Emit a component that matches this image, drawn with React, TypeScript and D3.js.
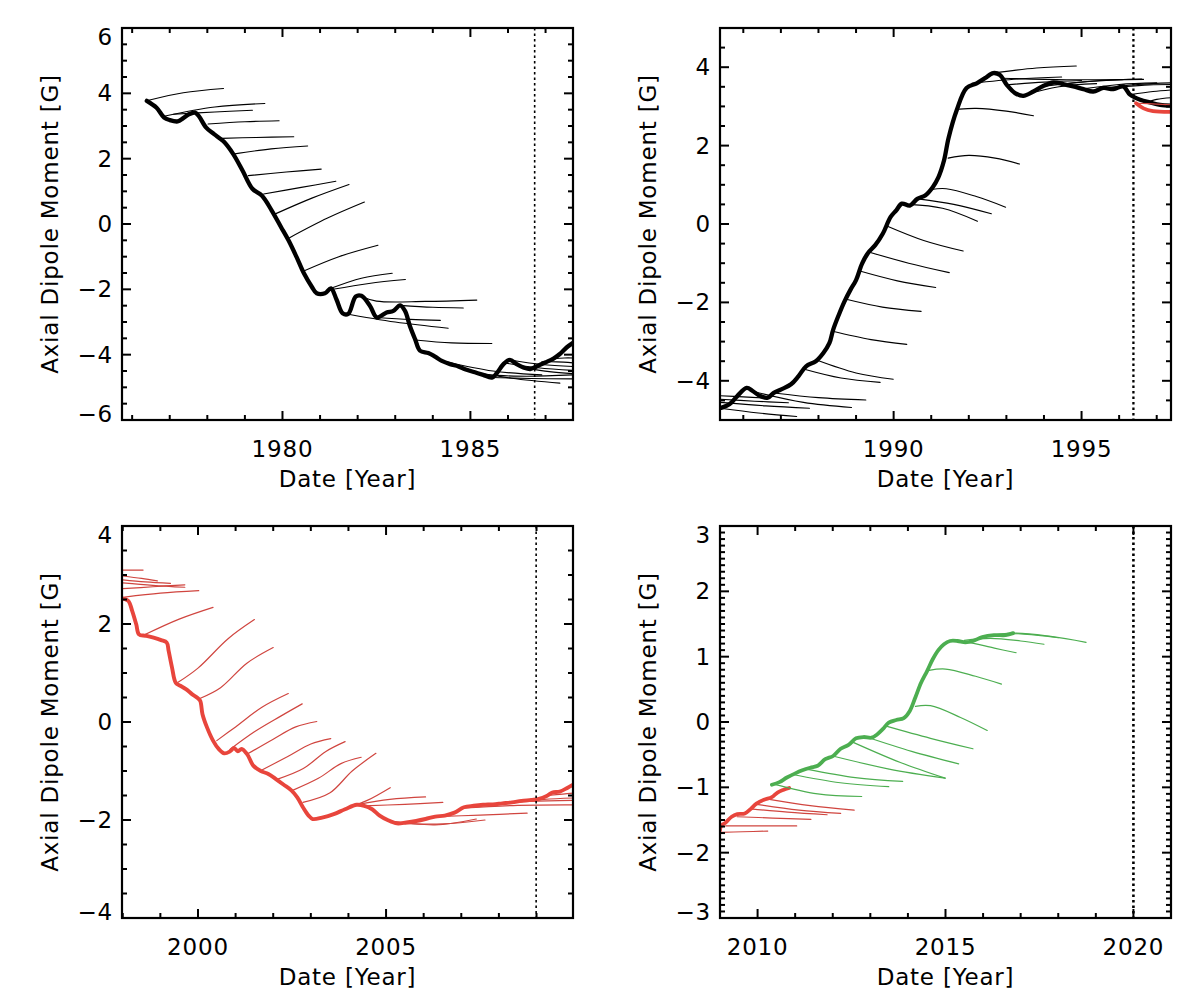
import React from 'react';
import * as d3 from 'd3';

type Pt = [number, number];

// ---------------- Panel 1 (1976-1987, black) ----------------
const p1Main: Pt[] = [
  [1976.39, 3.77], [1976.65, 3.56], [1976.85, 3.26], [1977.0, 3.18], [1977.21, 3.14],
  [1977.36, 3.24], [1977.51, 3.36], [1977.67, 3.41], [1977.77, 3.31], [1977.97, 2.95],
  [1978.18, 2.75], [1978.43, 2.53], [1978.69, 2.14], [1978.94, 1.63], [1979.2, 1.08],
  [1979.45, 0.87], [1979.71, 0.42], [1979.96, -0.09], [1980.16, -0.5], [1980.37, -1.0],
  [1980.57, -1.51], [1980.78, -1.92], [1980.91, -2.12], [1981.13, -2.12], [1981.29, -1.97],
  [1981.44, -2.32], [1981.6, -2.73], [1981.75, -2.75], [1981.95, -2.22], [1982.1, -2.2],
  [1982.33, -2.51], [1982.51, -2.86], [1982.77, -2.71], [1982.95, -2.66], [1983.13, -2.49],
  [1983.26, -2.66], [1983.39, -3.12], [1983.53, -3.53], [1983.66, -3.88], [1983.88, -3.95],
  [1984.06, -4.06], [1984.24, -4.19], [1984.46, -4.29], [1984.68, -4.36], [1984.9, -4.46],
  [1985.12, -4.54], [1985.34, -4.62], [1985.57, -4.7], [1985.7, -4.57], [1985.88, -4.29],
  [1986.05, -4.16], [1986.23, -4.29], [1986.41, -4.39], [1986.59, -4.44], [1986.76, -4.36],
  [1986.99, -4.24], [1987.21, -4.12], [1987.38, -3.98], [1987.56, -3.78], [1987.74, -3.63],
];
const p1Forecasts: Pt[][] = [
  [[1976.44, 3.79], [1977.36, 4.02], [1978.43, 4.15]],
  [[1976.85, 3.3], [1978.2, 3.58], [1979.53, 3.69]],
  [[1977.1, 3.36], [1978.2, 3.43], [1979.2, 3.48]],
  [[1978.02, 3.06], [1979.0, 3.13], [1979.91, 3.16]],
  [[1978.38, 2.62], [1979.3, 2.65], [1980.3, 2.67]],
  [[1978.69, 2.14], [1979.7, 2.3], [1980.67, 2.39]],
  [[1979.09, 1.48], [1980.1, 1.59], [1981.03, 1.68]],
  [[1979.5, 0.92], [1980.5, 1.12], [1981.42, 1.31]],
  [[1979.81, 0.31], [1980.8, 0.8], [1981.77, 1.21]],
  [[1980.19, -0.42], [1981.2, 0.18], [1982.18, 0.67]],
  [[1980.52, -1.46], [1981.5, -1.0], [1982.54, -0.65]],
  [[1981.29, -1.97], [1982.1, -1.66], [1982.92, -1.51]],
  [[1981.34, -2.0], [1982.3, -1.82], [1983.27, -1.7]],
  [[1982.1, -2.22], [1982.5, -2.36], [1983.8, -2.37], [1985.17, -2.33]],
  [[1983.13, -2.49], [1984.0, -2.55], [1984.81, -2.57]],
  [[1981.6, -2.73], [1983.0, -3.0], [1984.41, -3.19]],
  [[1982.51, -2.86], [1983.4, -2.92], [1984.2, -2.95]],
  [[1983.53, -3.55], [1984.5, -3.64], [1985.57, -3.66]],
  [[1984.3, -4.2], [1985.6, -4.5], [1986.9, -4.62]],
  [[1984.8, -4.46], [1986.1, -4.72], [1987.38, -4.87]],
  [[1985.3, -4.62], [1986.5, -4.66], [1987.73, -4.62]],
  [[1985.57, -4.7], [1986.6, -4.73], [1987.73, -4.74]],
  [[1985.9, -4.25], [1986.8, -4.4], [1987.73, -4.48]],
  [[1986.1, -4.17], [1986.9, -4.3], [1987.73, -4.36]],
  [[1986.5, -4.42], [1987.1, -4.52], [1987.73, -4.58]],
  [[1986.9, -4.22], [1987.3, -4.22], [1987.73, -4.25]],
  [[1987.2, -4.12], [1987.5, -4.1], [1987.73, -4.1]],
];

// ---------------- Panel 2 (1985-1997, black + red) ----------------
const p2Main: Pt[] = [
  [1985.41, -4.69], [1985.63, -4.6], [1985.84, -4.39], [1986.09, -4.18], [1986.25, -4.26],
  [1986.45, -4.39], [1986.65, -4.43], [1986.81, -4.31], [1987.01, -4.22], [1987.27, -4.09],
  [1987.47, -3.88], [1987.67, -3.63], [1987.93, -3.5], [1988.13, -3.29], [1988.29, -3.04],
  [1988.39, -2.7], [1988.54, -2.32], [1988.69, -1.98], [1988.85, -1.68], [1989.0, -1.43],
  [1989.16, -1.01], [1989.31, -0.75], [1989.51, -0.54], [1989.71, -0.25], [1989.92, 0.18],
  [1990.07, 0.35], [1990.22, 0.52], [1990.43, 0.47], [1990.63, 0.64], [1990.84, 0.73],
  [1991.04, 0.94], [1991.19, 1.19], [1991.34, 1.62], [1991.46, 2.19], [1991.68, 2.91],
  [1991.94, 3.47], [1992.21, 3.59], [1992.43, 3.72], [1992.65, 3.85], [1992.83, 3.8],
  [1993.01, 3.55], [1993.23, 3.34], [1993.45, 3.27], [1993.72, 3.38], [1993.98, 3.52],
  [1994.25, 3.61], [1994.51, 3.57], [1994.78, 3.51], [1995.05, 3.44], [1995.31, 3.38],
  [1995.58, 3.47], [1995.85, 3.44], [1996.11, 3.51], [1996.29, 3.3], [1996.56, 3.17],
  [1996.82, 3.1], [1997.09, 3.04], [1997.4, 3.02],
];
const p2Forecasts: Pt[][] = [
  [[1985.38, -4.7], [1986.4, -4.82], [1987.42, -4.91]],
  [[1985.38, -4.55], [1986.6, -4.64], [1987.76, -4.7]],
  [[1985.38, -4.47], [1986.3, -4.52], [1987.2, -4.56]],
  [[1985.38, -4.38], [1986.0, -4.41], [1986.6, -4.44]],
  [[1986.3, -4.28], [1987.6, -4.55], [1988.88, -4.68]],
  [[1986.81, -4.31], [1988.0, -4.43], [1989.26, -4.49]],
  [[1987.6, -3.7], [1988.6, -3.93], [1989.64, -4.04]],
  [[1987.95, -3.47], [1989.0, -3.8], [1989.99, -3.96]],
  [[1988.35, -2.73], [1989.4, -2.95], [1990.35, -3.07]],
  [[1988.74, -1.92], [1989.7, -2.12], [1990.73, -2.23]],
  [[1989.1, -1.2], [1990.1, -1.45], [1991.12, -1.62]],
  [[1989.36, -0.72], [1990.4, -1.0], [1991.48, -1.24]],
  [[1989.82, -0.05], [1990.8, -0.42], [1991.85, -0.69]],
  [[1990.4, 0.5], [1991.3, 0.4], [1992.23, 0.07]],
  [[1990.65, 0.64], [1991.6, 0.5], [1992.6, 0.26]],
  [[1991.0, 0.88], [1991.4, 0.9], [1992.2, 0.7], [1992.98, 0.43]],
  [[1991.45, 1.68], [1992.0, 1.75], [1992.7, 1.68], [1993.35, 1.53]],
  [[1991.75, 2.93], [1992.2, 2.95], [1993.0, 2.88], [1993.72, 2.76]],
  [[1992.08, 3.59], [1993.3, 3.7], [1994.47, 3.75]],
  [[1992.65, 3.85], [1993.8, 3.98], [1994.86, 4.03]],
  [[1992.9, 3.72], [1994.6, 3.68], [1996.65, 3.69]],
  [[1993.0, 3.55], [1994.0, 3.62], [1995.0, 3.66]],
  [[1993.4, 3.27], [1994.4, 3.5], [1995.4, 3.58]],
  [[1993.9, 3.5], [1995.0, 3.62], [1996.1, 3.68]],
  [[1994.5, 3.57], [1995.5, 3.66], [1996.6, 3.7]],
  [[1995.0, 3.44], [1996.0, 3.56], [1997.0, 3.6]],
  [[1995.5, 3.46], [1996.5, 3.56], [1997.38, 3.6]],
  [[1996.1, 3.5], [1996.8, 3.55], [1997.38, 3.56]],
  [[1996.3, 3.3], [1996.9, 3.38], [1997.38, 3.42]],
  [[1996.7, 3.1], [1997.0, 3.18], [1997.38, 3.22]],
];
const p2RedMain: Pt[] = [
  [1996.45, 3.08], [1996.65, 2.95], [1996.9, 2.88], [1997.38, 2.86],
];
const p2RedForecasts: Pt[][] = [
  [[1996.45, 3.08], [1997.0, 3.06], [1997.38, 3.04]],
];

// ---------------- Panel 3 (1998-2010, red) ----------------
const p3Main: Pt[] = [
  [1998.02, 2.52], [1998.15, 2.47], [1998.25, 2.27], [1998.36, 1.99], [1998.43, 1.79],
  [1998.61, 1.76], [1998.82, 1.72], [1999.02, 1.67], [1999.17, 1.62], [1999.22, 1.45],
  [1999.31, 1.11], [1999.41, 0.8], [1999.53, 0.74], [1999.68, 0.67], [1999.84, 0.57],
  [1999.99, 0.49], [2000.06, 0.43], [2000.12, 0.16], [2000.24, -0.11], [2000.4, -0.38],
  [2000.55, -0.55], [2000.7, -0.64], [2000.85, -0.6], [2000.96, -0.53], [2001.06, -0.6],
  [2001.16, -0.55], [2001.31, -0.66], [2001.47, -0.89], [2001.67, -1.0], [2001.87, -1.06],
  [2002.08, -1.17], [2002.28, -1.28], [2002.49, -1.4], [2002.64, -1.54], [2002.79, -1.74],
  [2002.94, -1.91], [2003.05, -1.98], [2003.3, -1.95], [2003.61, -1.88], [2003.91, -1.78],
  [2004.22, -1.69], [2004.42, -1.71], [2004.63, -1.78], [2004.83, -1.91], [2005.04, -2.0],
  [2005.29, -2.07], [2005.54, -2.05], [2005.8, -2.02], [2006.05, -1.98], [2006.31, -1.93],
  [2006.56, -1.91], [2006.82, -1.85], [2007.07, -1.74], [2007.33, -1.71], [2007.58, -1.69],
  [2007.84, -1.68], [2008.09, -1.66], [2008.35, -1.64], [2008.6, -1.61], [2008.86, -1.59],
  [2009.06, -1.57], [2009.27, -1.51], [2009.42, -1.44], [2009.62, -1.42], [2009.83, -1.34],
  [2010.0, -1.27],
];
const p3Forecasts: Pt[][] = [
  [[1998.0, 3.1], [1998.54, 3.1]],
  [[1998.0, 2.98], [1998.5, 2.93], [1998.92, 2.88]],
  [[1998.0, 2.9], [1998.6, 2.86], [1999.27, 2.83]],
  [[1998.0, 2.84], [1998.8, 2.79], [1999.65, 2.75]],
  [[1998.0, 2.72], [1998.8, 2.76], [1999.65, 2.8]],
  [[1998.05, 2.55], [1999.0, 2.63], [2000.02, 2.68]],
  [[1998.55, 1.77], [1999.5, 2.1], [2000.4, 2.34]],
  [[1999.45, 0.8], [2000.0, 1.1], [2000.8, 1.7], [2001.5, 2.09]],
  [[2000.05, 0.48], [2000.6, 0.7], [2001.3, 1.2], [2002.0, 1.52]],
  [[2000.5, -0.38], [2001.0, -0.1], [2001.7, 0.3], [2002.4, 0.58]],
  [[2000.85, -0.56], [2001.5, -0.2], [2002.2, 0.12], [2002.77, 0.37]],
  [[2001.3, -0.66], [2002.0, -0.35], [2002.6, -0.1], [2003.16, 0.01]],
  [[2001.7, -0.98], [2002.4, -0.7], [2003.0, -0.45], [2003.53, -0.34]],
  [[2002.1, -1.17], [2002.8, -0.95], [2003.4, -0.6], [2003.91, -0.4]],
  [[2002.5, -1.4], [2003.2, -1.15], [2003.8, -0.85], [2004.34, -0.72]],
  [[2002.79, -1.64], [2003.5, -1.45], [2004.1, -1.0], [2004.73, -0.64]],
  [[2003.9, -1.78], [2004.5, -1.6], [2005.11, -1.34]],
  [[2004.2, -1.69], [2005.1, -1.58], [2006.05, -1.53]],
  [[2004.4, -1.71], [2005.5, -1.68], [2006.51, -1.64]],
  [[2005.0, -2.0], [2006.3, -2.1], [2007.4, -1.98]],
  [[2005.3, -2.07], [2006.5, -2.08], [2007.63, -2.0]],
  [[2006.3, -1.93], [2007.5, -1.9], [2008.75, -1.86]],
  [[2007.0, -1.76], [2008.5, -1.7], [2010.0, -1.69]],
  [[2007.6, -1.69], [2008.8, -1.62], [2010.0, -1.6]],
  [[2008.4, -1.64], [2009.2, -1.58], [2010.0, -1.55]],
  [[2009.3, -1.5], [2009.7, -1.47], [2010.0, -1.45]],
];

// ---------------- Panel 4 (2009-2021, red + green) ----------------
const p4RedMain: Pt[] = [
  [2009.0, -1.66], [2009.03, -1.59], [2009.15, -1.54], [2009.31, -1.45], [2009.46, -1.41],
  [2009.66, -1.4], [2009.82, -1.33], [2009.97, -1.25], [2010.17, -1.19], [2010.38, -1.15],
  [2010.53, -1.08], [2010.68, -1.04], [2010.84, -1.01],
];
const p4RedForecasts: Pt[][] = [
  [[2009.0, -1.69], [2009.6, -1.68], [2010.27, -1.67]],
  [[2009.15, -1.59], [2010.1, -1.59], [2011.04, -1.59]],
  [[2009.46, -1.45], [2010.4, -1.47], [2011.42, -1.49]],
  [[2009.82, -1.33], [2010.8, -1.38], [2011.85, -1.42]],
  [[2009.97, -1.26], [2011.1, -1.35], [2012.21, -1.4]],
  [[2010.27, -1.18], [2011.4, -1.28], [2012.57, -1.35]],
];
const p4GreenMain: Pt[] = [
  [2010.38, -0.96], [2010.58, -0.92], [2010.78, -0.85], [2010.99, -0.79], [2011.19, -0.74],
  [2011.4, -0.7], [2011.6, -0.67], [2011.8, -0.57], [2012.01, -0.52], [2012.21, -0.41],
  [2012.42, -0.35], [2012.62, -0.25], [2012.82, -0.23], [2013.03, -0.24], [2013.18, -0.19],
  [2013.33, -0.11], [2013.49, -0.01], [2013.69, 0.03], [2013.89, 0.06], [2014.05, 0.17],
  [2014.2, 0.38], [2014.35, 0.6], [2014.51, 0.78], [2014.66, 0.96], [2014.81, 1.1],
  [2014.96, 1.19], [2015.12, 1.24], [2015.32, 1.24], [2015.53, 1.22], [2015.73, 1.24],
  [2015.98, 1.3], [2016.29, 1.33], [2016.6, 1.33], [2016.8, 1.36],
];
const p4GreenForecasts: Pt[][] = [
  [[2010.43, -0.95], [2011.6, -1.1], [2012.77, -1.14]],
  [[2010.9, -0.8], [2012.2, -0.93], [2013.49, -0.99]],
  [[2011.3, -0.72], [2012.6, -0.85], [2013.86, -0.91]],
  [[2012.0, -0.52], [2013.5, -0.72], [2014.99, -0.86]],
  [[2012.5, -0.3], [2013.8, -0.62], [2014.99, -0.86]],
  [[2012.9, -0.23], [2014.1, -0.45], [2015.35, -0.64]],
  [[2013.4, -0.06], [2014.6, -0.25], [2015.73, -0.41]],
  [[2014.2, 0.24], [2014.6, 0.25], [2015.4, 0.07], [2016.11, -0.13]],
  [[2014.56, 0.79], [2015.0, 0.81], [2015.8, 0.7], [2016.49, 0.58]],
  [[2015.12, 1.24], [2015.6, 1.22], [2016.3, 1.13], [2016.88, 1.06]],
  [[2015.5, 1.25], [2016.2, 1.28], [2017.0, 1.24], [2017.62, 1.19]],
  [[2015.98, 1.3], [2016.8, 1.36], [2017.8, 1.31], [2018.74, 1.22]],
  [[2016.3, 1.33], [2017.0, 1.35], [2018.0, 1.29]],
];

// ---------------- axis settings ----------------
const xDomains: Pt[] = [[1975.73, 1987.73], [1985.38, 1997.38], [1997.98, 2009.97], [2009.0, 2021.0]];
const yDomains: Pt[] = [[-6, 6], [-5, 5], [-4, 4], [-3, 3]];
const yMajorSteps = [2, 2, 2, 1];
const yMinorSteps = [0.5, 0.5, 0.5, 0.1];
const dottedYears = [1986.71, 1996.38, 2008.99, 2020.0];
const xTitle = 'Date [Year]';
const yTitle = 'Axial Dipole Moment [G]';

const BLACK = '#000000';
const RED = '#e8453c';
const RED_THIN = '#d0453f';
const GREEN = '#4cae50';

const FONT = '"DejaVu Sans", sans-serif';
const FONT_SIZE = 23;
const LETTER_SPACING = 0.8;
const W = 451;
const H = 392;
const origins: Pt[] = [[122, 28], [720, 28], [122, 526], [720, 526]];
const dottedWidths = [1.6, 2.3, 1.6, 2.6];

type Series = { data: Pt[]; color: string; width: number };

const panelSeries: Series[][] = [
  [
    ...p1Forecasts.map((d) => ({ data: d, color: BLACK, width: 1.1 })),
    { data: p1Main, color: BLACK, width: 4.3 },
  ],
  [
    ...p2Forecasts.map((d) => ({ data: d, color: BLACK, width: 1.1 })),
    { data: p2Main, color: BLACK, width: 4.3 },
    ...p2RedForecasts.map((d) => ({ data: d, color: RED_THIN, width: 1.2 })),
    { data: p2RedMain, color: RED, width: 3.8 },
  ],
  [
    ...p3Forecasts.map((d) => ({ data: d, color: RED_THIN, width: 1.2 })),
    { data: p3Main, color: RED, width: 3.9 },
  ],
  [
    ...p4RedForecasts.map((d) => ({ data: d, color: RED_THIN, width: 1.2 })),
    { data: p4RedMain, color: RED, width: 3.8 },
    ...p4GreenForecasts.map((d) => ({ data: d, color: GREEN, width: 1.2 })),
    { data: p4GreenMain, color: GREEN, width: 3.8 },
  ],
];

function stepValues(lo: number, hi: number, step: number): number[] {
  const start = Math.ceil(lo / step - 1e-9);
  const end = Math.floor(hi / step + 1e-9);
  return d3.range(start, end + 1).map((k) => +(k * step).toFixed(6));
}

function isMultiple(v: number, step: number): boolean {
  const r = v / step;
  return Math.abs(r - Math.round(r)) < 1e-6;
}

function fmt(v: number): string {
  return v < 0 ? '\u2212' + Math.abs(v) : String(v);
}

function Panel({ idx }: { idx: number }) {
  const [ox, oy] = origins[idx];
  const xd = xDomains[idx];
  const yd = yDomains[idx];
  const x = d3.scaleLinear().domain(xd).range([0, W]);
  const y = d3.scaleLinear().domain(yd).range([H, 0]);
  const line = d3
    .line<Pt>()
    .x((d) => x(d[0]))
    .y((d) => y(d[1]))
    .curve(d3.curveCatmullRom.alpha(0.5));

  const xTicks = stepValues(xd[0], xd[1], 1);
  const yTicks = stepValues(yd[0], yd[1], yMinorSteps[idx]);
  const yMaj = yMajorSteps[idx];
  const xLabels = xTicks.filter((t) => isMultiple(t, 5));
  const yLabels = yTicks.filter((t) => isMultiple(t, yMaj));
  const clipId = `clip-${idx}`;
  const majLen = 9;
  const minLen = 5;

  const textProps = {
    fontFamily: FONT,
    fontSize: FONT_SIZE,
    letterSpacing: LETTER_SPACING,
    dominantBaseline: 'central' as const,
    fill: '#000',
  };

  return (
    <g transform={`translate(${ox},${oy})`}>
      <defs>
        <clipPath id={clipId}>
          <rect x={0} y={0} width={W} height={H} />
        </clipPath>
      </defs>
      <g clipPath={`url(#${clipId})`}>
        {panelSeries[idx].map((s, i) => (
          <path
            key={i}
            d={line(s.data) || ''}
            fill="none"
            stroke={s.color}
            strokeWidth={s.width}
            strokeLinejoin="round"
            strokeLinecap="round"
          />
        ))}
        <line
          x1={x(dottedYears[idx])}
          x2={x(dottedYears[idx])}
          y1={0}
          y2={H}
          stroke="#000"
          strokeWidth={dottedWidths[idx]}
          strokeDasharray="2.5,3"
        />
      </g>
      {xTicks.map((t) => {
        const len = isMultiple(t, 5) ? majLen : minLen;
        const px = x(t);
        return (
          <g key={`xt${t}`}>
            <line x1={px} x2={px} y1={H} y2={H - len} stroke="#000" strokeWidth={2} />
            <line x1={px} x2={px} y1={0} y2={len} stroke="#000" strokeWidth={2} />
          </g>
        );
      })}
      {yTicks.map((t) => {
        const len = isMultiple(t, yMaj) ? majLen : minLen;
        const py = y(t);
        return (
          <g key={`yt${t}`}>
            <line x1={0} x2={len} y1={py} y2={py} stroke="#000" strokeWidth={2} />
            <line x1={W} x2={W - len} y1={py} y2={py} stroke="#000" strokeWidth={2} />
          </g>
        );
      })}
      <rect x={0} y={0} width={W} height={H} fill="none" stroke="#000" strokeWidth={2.2} />
      {xLabels.map((t) => (
        <text key={`xl${t}`} x={x(t)} y={H + 29} textAnchor="middle" {...textProps}>
          {String(t)}
        </text>
      ))}
      {yLabels.map((t) => {
        let py = y(t);
        if (Math.abs(t - yd[1]) < 1e-6) py += 9;
        if (Math.abs(t - yd[0]) < 1e-6) py -= 6;
        return (
          <text key={`yl${t}`} x={-9} y={py} textAnchor="end" {...textProps}>
            {fmt(t)}
          </text>
        );
      })}
      <text x={W / 2} y={H + 59} textAnchor="middle" {...textProps}>
        {xTitle}
      </text>
      <text
        transform={`translate(${-72},${H / 2}) rotate(-90)`}
        textAnchor="middle"
        {...textProps}
      >
        {yTitle}
      </text>
    </g>
  );
}

export default function App() {
  return (
    <svg
      width={1200}
      height={1004}
      viewBox="0 0 1200 1004"
      style={{ position: 'absolute', left: 0, top: 0, background: '#fff', display: 'block' }}
    >
      <rect x={0} y={0} width={1200} height={1004} fill="#fff" />
      {[0, 1, 2, 3].map((i) => (
        <Panel key={i} idx={i} />
      ))}
    </svg>
  );
}
